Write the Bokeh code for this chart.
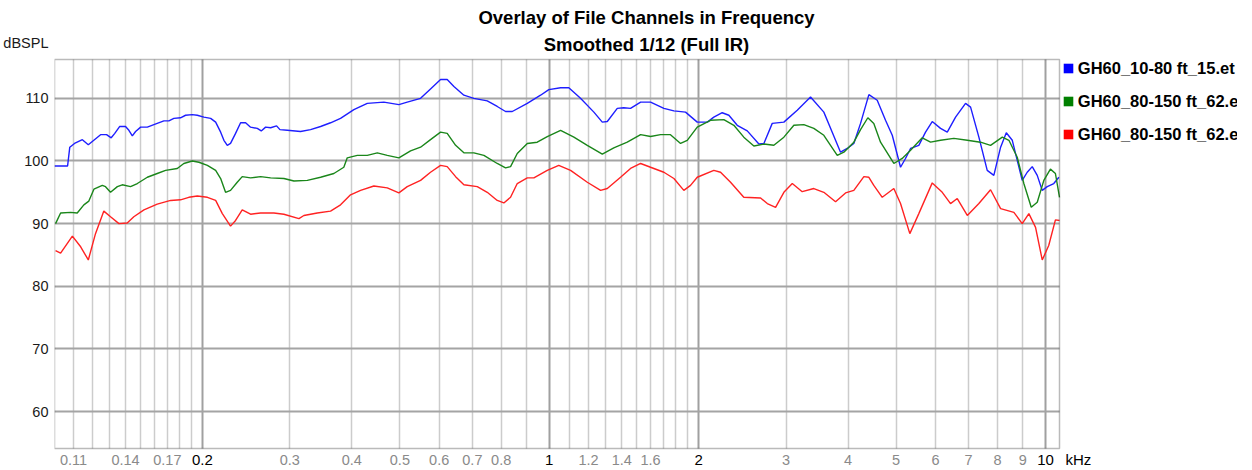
import math
from bokeh.plotting import figure
from bokeh.models import Range1d, FixedTicker, Grid, Label, Legend, LegendItem, BoxAnnotation
from bokeh.embed import file_html
from bokeh.resources import INLINE

# ---------------- data (frequency in kHz, level in dBSPL) ----------------
blue_khz = [0.1007, 0.1070, 0.1081, 0.1105, 0.1146, 0.1178, 0.1247, 0.1282, 0.1310, 0.1332,
            0.1362, 0.1400, 0.1422, 0.1445, 0.1467, 0.1502, 0.1549, 0.1597, 0.1673, 0.1712,
            0.1752, 0.1807, 0.1850, 0.1908, 0.1953, 0.2014, 0.2078, 0.2127, 0.2177, 0.2210,
            0.2245, 0.2279, 0.2333, 0.2388, 0.2444, 0.2501, 0.2580, 0.2628, 0.2682, 0.2745,
            0.2822, 0.2866, 0.2966, 0.3154, 0.3304, 0.3461, 0.3625, 0.3797, 0.4039, 0.4298,
            0.4642, 0.4977, 0.5174, 0.5504, 0.5764, 0.6039, 0.6228, 0.6425, 0.6729, 0.7048,
            0.7500, 0.7856, 0.8164, 0.8423, 0.9030, 0.9605, 0.998, 1.054, 1.095, 1.156,
            1.230, 1.279, 1.309, 1.371, 1.413, 1.458, 1.528, 1.600, 1.702, 1.783,
            1.882, 1.987, 2.082, 2.146, 2.231, 2.301, 2.392, 2.506, 2.645, 2.707,
            2.814, 2.970, 3.160, 3.361, 3.575, 3.717, 3.863, 3.985, 4.109, 4.239,
            4.406, 4.580, 4.760, 4.911, 5.103, 5.222, 5.346, 5.555, 5.731, 5.912,
            6.144, 6.339, 6.588, 6.900, 7.063, 7.340, 7.630, 7.868, 8.119, 8.336,
            8.571, 8.770, 8.975, 9.186, 9.402, 9.623, 9.849, 10.08, 10.39, 10.64]
blue_db = [99.2, 99.2, 102.2, 102.8, 103.4, 102.6, 104.2, 104.2, 103.7, 104.4,
           105.5, 105.5, 104.9, 104.0, 104.7, 105.4, 105.4, 105.8, 106.4, 106.4,
           106.8, 106.9, 107.3, 107.4, 107.3, 107.0, 106.8, 106.2, 104.6, 103.3,
           102.5, 102.8, 104.4, 106.1, 106.1, 105.4, 105.2, 104.8, 105.4, 105.3,
           105.6, 105.0, 104.9, 104.7, 105.0, 105.5, 106.1, 106.8, 108.2, 109.2,
           109.4, 109.0, 109.4, 110.0, 111.5, 113.0, 113.0, 111.9, 110.5, 110.0,
           109.6, 108.7, 107.9, 107.9, 109.2, 110.5, 111.4, 111.7, 111.7, 110.0,
           107.8, 106.2, 106.3, 108.4, 108.5, 108.4, 109.4, 109.4, 108.4, 108.0,
           107.8, 106.2, 106.2, 107.0, 107.7, 107.3, 105.7, 104.8, 102.7, 102.8,
           106.0, 106.2, 108.1, 110.2, 107.8, 104.6, 101.4, 102.0, 102.8, 106.0,
           110.6, 109.7, 106.5, 104.1, 99.0, 100.4, 102.0, 102.5, 104.6, 106.3,
           105.2, 104.6, 107.0, 109.2, 108.6, 103.8, 98.5, 97.7, 102.2, 104.5,
           103.3, 100.1, 96.9, 98.2, 99.1, 97.7, 95.3, 95.9, 96.4, 97.4]

green_khz = [0.1012, 0.1036, 0.1085, 0.1119, 0.1154, 0.1181, 0.1209, 0.1257, 0.1276, 0.1306,
             0.1348, 0.1379, 0.1433, 0.1479, 0.1549, 0.1622, 0.1686, 0.1780, 0.1835, 0.1908,
             0.1968, 0.2047, 0.2127, 0.2177, 0.2227, 0.2279, 0.2351, 0.2406, 0.2501, 0.2620,
             0.2745, 0.2919, 0.3058, 0.3254, 0.3461, 0.3681, 0.3855, 0.3917, 0.4103, 0.4298,
             0.4502, 0.4716, 0.4977, 0.5254, 0.5504, 0.5764, 0.6039, 0.6228, 0.6476, 0.6729,
             0.7048, 0.7383, 0.7856, 0.8164, 0.8356, 0.8620, 0.9030, 0.9458, 0.9908, 1.054,
             1.121, 1.193, 1.279, 1.349, 1.436, 1.528, 1.600, 1.676, 1.755, 1.839,
             1.897, 1.987, 2.113, 2.248, 2.355, 2.466, 2.584, 2.707, 2.835, 2.970,
             3.111, 3.258, 3.413, 3.575, 3.688, 3.805, 3.923, 4.109, 4.239, 4.385,
             4.508, 4.651, 4.947, 5.143, 5.346, 5.644, 5.866, 6.144, 6.536, 6.956,
             7.396, 7.749, 8.184, 8.438, 8.770, 9.043, 9.359, 9.623, 9.922, 10.23,
             10.47, 10.67]
green_db = [90.0, 91.7, 91.8, 91.7, 93.0, 93.6, 95.5, 96.1, 95.9, 95.0,
            95.9, 96.2, 95.9, 96.4, 97.4, 98.0, 98.5, 98.8, 99.6, 100.0,
            99.8, 99.3, 98.5, 97.2, 95.0, 95.3, 96.6, 97.5, 97.3, 97.5,
            97.3, 97.2, 96.8, 96.9, 97.4, 98.0, 99.0, 100.5, 100.9, 100.9,
            101.3, 100.9, 100.5, 101.6, 102.2, 103.4, 104.6, 104.4, 102.5, 101.3,
            101.3, 100.9, 99.6, 98.9, 99.1, 101.2, 102.8, 103.0, 103.9, 104.9,
            103.8, 102.5, 101.1, 102.1, 103.0, 104.2, 103.9, 104.2, 104.2, 102.8,
            103.3, 105.4, 106.5, 106.6, 105.7, 103.8, 102.4, 102.7, 102.5, 103.8,
            105.7, 105.8, 105.2, 104.1, 102.5, 100.9, 101.4, 103.0, 105.0, 106.9,
            106.0, 103.0, 99.6, 100.4, 101.7, 103.7, 103.0, 103.3, 103.6, 103.3,
            103.0, 102.5, 103.8, 103.3, 100.6, 96.4, 92.6, 93.4, 96.9, 98.7,
            98.0, 94.2]

red_khz = [0.1012, 0.1036, 0.1094, 0.1137, 0.1178, 0.1218, 0.1266, 0.1306, 0.1358, 0.1411,
           0.1455, 0.1525, 0.1622, 0.1726, 0.1807, 0.1878, 0.1953, 0.2047, 0.2127, 0.2194,
           0.2279, 0.2333, 0.2406, 0.2501, 0.2620, 0.2787, 0.2919, 0.3130, 0.3203, 0.3408,
           0.3625, 0.3797, 0.3977, 0.4167, 0.4432, 0.4716, 0.4977, 0.5174, 0.5504, 0.5764,
           0.6039, 0.6228, 0.6476, 0.6729, 0.7160, 0.7500, 0.7856, 0.8100, 0.8356, 0.8620,
           0.9030, 0.9311, 0.9908, 1.045, 1.104, 1.193, 1.269, 1.309, 1.392, 1.458,
           1.528, 1.600, 1.702, 1.783, 1.867, 1.926, 1.987, 2.146, 2.214, 2.319,
           2.466, 2.666, 2.750, 2.858, 2.970, 3.088, 3.234, 3.413, 3.575, 3.775,
           3.954, 4.109, 4.305, 4.406, 4.508, 4.688, 4.947, 5.103, 5.328, 5.555,
           5.912, 6.193, 6.436, 6.640, 6.956, 7.340, 7.749, 8.119, 8.635, 8.975,
           9.256, 9.548, 9.849, 10.15, 10.47, 10.67]
red_db = [85.7, 85.3, 88.0, 86.3, 84.2, 88.4, 92.0, 91.1, 90.0, 90.1,
          91.1, 92.2, 93.1, 93.7, 93.8, 94.2, 94.4, 94.2, 93.7, 91.6,
          89.6, 90.5, 92.2, 91.5, 91.7, 91.7, 91.5, 90.8, 91.3, 91.7,
          92.0, 93.0, 94.6, 95.3, 96.0, 95.7, 94.9, 95.9, 96.9, 98.2,
          99.3, 99.1, 97.5, 96.2, 95.9, 95.0, 93.7, 93.3, 94.2, 96.4,
          97.3, 97.3, 98.5, 99.3, 98.5, 96.6, 95.3, 95.6, 97.4, 98.8,
          99.6, 99.0, 98.2, 97.2, 95.3, 96.1, 97.4, 98.5, 98.2, 96.6,
          94.2, 94.1, 93.2, 92.6, 95.0, 96.4, 95.1, 95.6, 95.0, 93.5,
          94.9, 95.3, 97.5, 97.4, 96.1, 94.2, 95.6, 93.2, 88.4, 91.6,
          96.5, 95.0, 93.2, 94.0, 91.3, 93.2, 95.4, 92.4, 91.8, 90.0,
          91.6, 89.4, 84.2, 86.5, 90.6, 90.5]

series_names = ["GH60_10-80 ft_15.et", "GH60_80-150 ft_62.e", "GH60_80-150 ft_62.e"]
series_colors = ["#1e1eff", "#1a861a", "#ff2222"]
legend_colors = ["#0000ff", "#008000", "#ff0000"]

y_ticks = [60, 70, 80, 90, 100, 110]
y_unit = "dBSPL"
x_label_gray = [0.11, 0.14, 0.17, 0.3, 0.4, 0.5, 0.6, 0.7, 0.8, 1.2, 1.4, 1.6, 3, 4, 5, 6, 7, 8, 9]
x_label_black = [0.2, 1, 2, 10]
x_unit = "kHz"
x_grid_minor = [0.11, 0.12, 0.13, 0.14, 0.15, 0.16, 0.17, 0.18, 0.19,
                0.3, 0.4, 0.5, 0.6, 0.7, 0.8, 0.9,
                1.1, 1.2, 1.3, 1.4, 1.5, 1.6, 1.7, 1.8, 1.9,
                3, 4, 5, 6, 7, 8, 9]
x_grid_major = [0.2, 1, 2, 10]

title_lines = ["Overlay of File Channels in Frequency", "Smoothed 1/12 (Full IR)"]

# visible plot-area bounds (data units)
X_START, X_END = 0.1007, 10.67
Y_START, Y_END = 54.1, 116.2

# ---------------- layout geometry (pixels) ----------------
W, H = 1237, 470
PLOT_L, PLOT_R, PLOT_T, PLOT_B = 54, 1059, 59, 448   # plot area inside the canvas

dec_per_px = (math.log10(X_END) - math.log10(X_START)) / (PLOT_R - PLOT_L)
db_per_px = (Y_END - Y_START) / (PLOT_B - PLOT_T)
FRAME_X_END = 10 ** (math.log10(X_END) + (W - PLOT_R) * dec_per_px)
FRAME_Y_END = Y_END + PLOT_T * db_per_px
FRAME_Y_START = Y_START - (H - PLOT_B) * db_per_px


def sx(canvas_x):  # canvas px -> frame screen x
    return canvas_x - PLOT_L


def sy(canvas_y):  # canvas px -> frame screen y (upwards)
    return H - canvas_y


p = figure(width=W, height=H, x_axis_type="log",
           x_range=Range1d(X_START, FRAME_X_END), y_range=Range1d(FRAME_Y_START, FRAME_Y_END),
           output_backend="svg", toolbar_location=None,
           min_border_left=PLOT_L, min_border_right=0, min_border_top=0, min_border_bottom=0)

p.background_fill_color = "white"
p.border_fill_color = "white"
p.outline_line_color = None
p.xaxis.visible = False

# y axis: numeric ticks plus the unit name at the top
y_unit_pos = Y_END + (PLOT_T - 42) * db_per_px
yax = p.yaxis[0]
yax.ticker = FixedTicker(ticks=y_ticks + [y_unit_pos])
yax.major_label_overrides = {y_unit_pos: y_unit}
yax.axis_line_color = None
yax.major_tick_line_color = None
yax.minor_tick_line_color = None
yax.major_tick_in = 0
yax.major_tick_out = 0
yax.major_label_standoff = 6
yax.major_label_text_font = "Liberation Sans"
yax.major_label_text_font_size = "14.5px"
yax.major_label_text_color = "#1a1a1a"

# grids limited to the plot area
for g in list(p.grid):
    g.visible = False

has_cross = "cross_bounds" in Grid.properties()


def add_grid(dim, ticks, color, width):
    if has_cross:
        g = Grid(dimension=dim, ticker=FixedTicker(ticks=ticks), grid_line_color=color,
                 grid_line_width=width,
                 cross_bounds=(Y_START, Y_END) if dim == 0 else (X_START, X_END))
        p.add_layout(g)
    else:
        if dim == 0:
            p.segment(x0=ticks, x1=ticks, y0=[Y_START] * len(ticks), y1=[Y_END] * len(ticks),
                      line_color=color, line_width=width)
        else:
            p.segment(x0=[X_START] * len(ticks), x1=[X_END] * len(ticks), y0=ticks, y1=ticks,
                      line_color=color, line_width=width)


add_grid(0, x_grid_minor, "#cccccc", 1.5)
add_grid(0, x_grid_major, "#a0a0a0", 2)
add_grid(1, y_ticks, "#a4a4a4", 2)

# curves
for xs, ys, c in zip([blue_khz, green_khz, red_khz], [blue_db, green_db, red_db], series_colors):
    p.line(xs, ys, line_color=c, line_width=1.4)

# plot-area frame
p.add_layout(BoxAnnotation(left=X_START, right=X_END, bottom=Y_START, top=Y_END,
                           fill_alpha=0, line_color="#1a1a1a", line_width=1.5))

# x tick labels below the plot area
lab_y = sy(459)
for t in x_label_gray:
    p.add_layout(Label(x=t, y=lab_y, x_units="data", y_units="screen", text=f"{t:g}",
                       text_align="center", text_baseline="middle",
                       text_font="Liberation Sans", text_font_size="14.5px", text_color="#8a8a8a"))
for t in x_label_black:
    p.add_layout(Label(x=t, y=lab_y, x_units="data", y_units="screen", text=f"{t:g}",
                       text_align="center", text_baseline="middle",
                       text_font="Liberation Sans", text_font_size="15px", text_color="#000000"))
p.add_layout(Label(x=sx(1065), y=lab_y, x_units="screen", y_units="screen", text=x_unit,
                   text_align="left", text_baseline="middle",
                   text_font="Liberation Sans", text_font_size="15px", text_color="#000000"))

# title lines
for txt, cy in zip(title_lines, [17, 43.5]):
    p.add_layout(Label(x=sx(646), y=sy(cy), x_units="screen", y_units="screen", text=txt,
                       text_align="center", text_baseline="middle",
                       text_font="Liberation Sans", text_font_style="bold",
                       text_font_size="18.5px", text_color="#000000"))

# legend to the right of the plot area (legend-only square glyphs, no drawn data)
nan = float("nan")
items = []
for name, c in zip(series_names, legend_colors):
    r = p.quad(left=[nan], right=[nan], top=[nan], bottom=[nan], fill_color=c, line_color=None)
    items.append(LegendItem(label=name, renderers=[r]))
legend = Legend(items=items, location=(sx(1061.8), sy(144.3)),
                label_text_font="Liberation Sans", label_text_font_style="bold",
                label_text_font_size="16.5px", label_text_color="#000000",
                glyph_width=12, glyph_height=12, label_standoff=4, label_height=20,
                spacing=13, padding=0, margin=0,
                border_line_color=None, background_fill_alpha=0)
p.add_layout(legend)

open("out.html", "w").write(file_html(p, INLINE))
